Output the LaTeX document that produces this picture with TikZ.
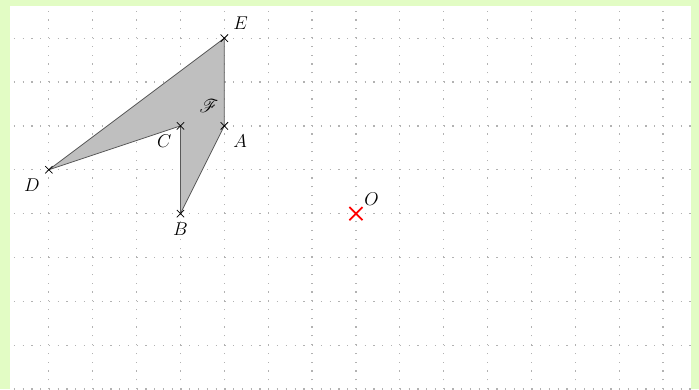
\documentclass[tikz,border=0pt]{standalone}
\usepackage{amsmath}
\usepackage{mathrsfs}
\usetikzlibrary{shapes.misc}
\definecolor{framegreen}{RGB}{226,252,196}
\begin{document}
\begin{tikzpicture}[cr/.style={cross out, draw, inner sep=0pt, minimum size=1.5mm, line width=0.5pt}, ocr/.style={cross out, draw=red, inner sep=0pt, minimum size=2.6mm, line width=1.1pt}, dots/.style={gray!60, line width=0.8pt, dash pattern=on 0.8pt off 4.89pt}, every label/.style={font=\large}]
\useasboundingbox (-0.114,0) rectangle (15.82,8.87);
\fill[framegreen] (-0.114,0) rectangle (15.82,8.87);
\fill[white] (0.114,-0.1) rectangle (15.64,8.73);
\begin{scope}
\clip (0.114,-0.1) rectangle (15.64,8.73);
\draw[dots] (0,0) grid (16,9);
\end{scope}
\coordinate (A) at (5,6);
\coordinate (B) at (4,4);
\coordinate (C) at (4,6);
\coordinate (D) at (1,5);
\coordinate (E) at (5,8);
\coordinate (O) at (8,4);
\draw[gray!70!black, fill=gray!50, line width=0.5pt] (A) -- (B) -- (C) -- (D) -- (E) -- cycle;
\node[font=\large] (F) at (4.65,6.45) {$\mathscr{F}$};
\node[cr, label=below right:$A$] (xA) at (A) {};
\node[cr, label=below:$B$] (xB) at (B) {};
\node[cr, label=below left:$C$] (xC) at (C) {};
\node[cr, label=below left:$D$] (xD) at (D) {};
\node[cr, label=above right:$E$] (xE) at (E) {};
\node[ocr, label={[inner sep=1pt]above right:$O$}] (xO) at (O) {};
\end{tikzpicture}
\end{document}
